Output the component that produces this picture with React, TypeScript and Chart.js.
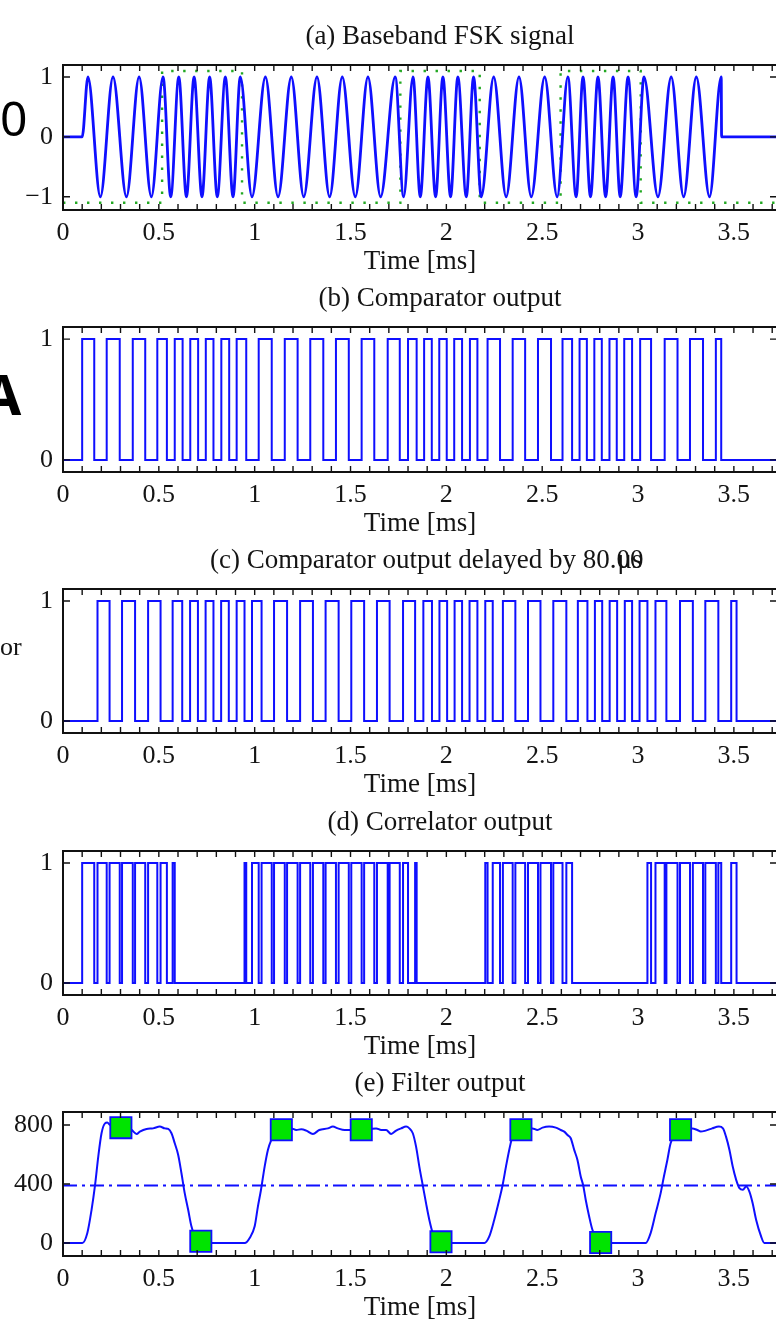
import React, { useEffect, useRef } from 'react';
import { Chart, registerables } from 'chart.js';

Chart.register(...registerables);

const SERIF = '"Liberation Serif", "Times New Roman", Times, serif';
const TEXT = '#141414';
const BLUE = '#0f0fff';
const GREEN_DOT = '#22a822';
const MARKER_FILL = '#00e400';

// ---------------- data ----------------
const X_MAX = 3.725;
const xTickValues = [0, 0.5, 1, 1.5, 2, 2.5, 3, 3.5];
const xTickLabels = ['0', '0.5', '1', '1.5', '2', '2.5', '3', '3.5'];

// (a) baseband FSK signal: times of maxima (+1) and minima (-1), in ms
const fskOnset = 0.1;
const fskOffset = 3.436;
const fskPeaks = [
  0.13, 0.261, 0.397, 0.522, 0.604, 0.684, 0.765, 0.847, 0.925, 1.056, 1.191,
  1.325, 1.457, 1.591, 1.733, 1.826, 1.904, 1.982, 2.06, 2.142, 2.247, 2.379,
  2.513, 2.634, 2.713, 2.791, 2.87, 2.948, 3.031, 3.173, 3.304, 3.434,
];
const fskTroughs = [
  0.195, 0.331, 0.461, 0.562, 0.644, 0.725, 0.805, 0.887, 0.986, 1.122, 1.256,
  1.391, 1.525, 1.657, 1.777, 1.864, 1.944, 2.022, 2.104, 2.182, 2.312, 2.443,
  2.578, 2.677, 2.752, 2.831, 2.907, 2.99, 3.104, 3.238, 3.373,
];
// dotted bit envelope (high intervals, ms) and its two levels
const bitHighIntervals = [
  [0.517, 0.934],
  [1.76, 2.174],
  [2.596, 3.014],
];
const bitLow = -1.1;
const bitHigh = 1.1;

// (b) comparator output: [rise, fall] in ms
const comparatorPulses = [
  [0.1, 0.163], [0.228, 0.296], [0.364, 0.429], [0.492, 0.542], [0.583, 0.624],
  [0.664, 0.705], [0.745, 0.785], [0.826, 0.867], [0.906, 0.956], [1.021, 1.089],
  [1.157, 1.224], [1.29, 1.358], [1.424, 1.491], [1.558, 1.624], [1.694, 1.757],
  [1.8, 1.845], [1.884, 1.924], [1.963, 2.002], [2.041, 2.082], [2.123, 2.162],
  [2.215, 2.28], [2.346, 2.411], [2.478, 2.546], [2.606, 2.656], [2.695, 2.733],
  [2.772, 2.811], [2.851, 2.889], [2.928, 2.969], [3.011, 3.068], [3.139, 3.206],
  [3.271, 3.339], [3.406, 3.434],
];

// (c) comparator output delayed by 80 us: [rise, fall] in ms
const delayedPulses = [
  [0.18, 0.243], [0.308, 0.376], [0.444, 0.509], [0.572, 0.622], [0.663, 0.704],
  [0.744, 0.785], [0.825, 0.865], [0.906, 0.947], [0.986, 1.036], [1.101, 1.169],
  [1.237, 1.304], [1.37, 1.438], [1.504, 1.571], [1.638, 1.704], [1.774, 1.837],
  [1.88, 1.925], [1.964, 2.004], [2.043, 2.082], [2.121, 2.162], [2.203, 2.242],
  [2.295, 2.36], [2.426, 2.491], [2.558, 2.626], [2.686, 2.736], [2.775, 2.813],
  [2.852, 2.891], [2.931, 2.969], [3.008, 3.049], [3.091, 3.148], [3.219, 3.286],
  [3.351, 3.419], [3.486, 3.514],
];

// (d) correlator output: [rise, fall] in ms
const correlatorPulses = [
  [0.1, 0.163], [0.18, 0.228], [0.243, 0.296], [0.308, 0.364], [0.376, 0.429],
  [0.444, 0.492], [0.509, 0.542], [0.572, 0.583], [0.947, 0.956], [0.986, 1.021],
  [1.036, 1.089], [1.101, 1.157], [1.169, 1.224], [1.237, 1.29], [1.304, 1.358],
  [1.37, 1.424], [1.438, 1.491], [1.504, 1.558], [1.571, 1.624], [1.638, 1.694],
  [1.704, 1.757], [1.774, 1.8], [1.837, 1.845], [2.203, 2.215], [2.242, 2.28],
  [2.295, 2.346], [2.36, 2.411], [2.426, 2.478], [2.491, 2.546], [2.558, 2.606],
  [2.626, 2.656], [3.049, 3.068], [3.091, 3.139], [3.148, 3.206], [3.219, 3.271],
  [3.286, 3.339], [3.351, 3.406], [3.419, 3.434], [3.486, 3.514],
];

// (e) filter output
const filterTimes = [
  0, 0.101, 0.127, 0.149, 0.167, 0.184, 0.201, 0.219, 0.231, 0.245, 0.3, 0.358,
  0.384, 0.401, 0.436, 0.47, 0.505, 0.531, 0.549, 0.566, 0.583, 0.601, 0.618,
  0.635, 0.653, 0.67, 0.696, 0.72, 0.783, 0.948, 0.974, 1.0, 1.017, 1.033, 1.052,
  1.069, 1.087, 1.113, 1.14, 1.191, 1.217, 1.243, 1.269, 1.304, 1.337, 1.382,
  1.408, 1.434, 1.469, 1.503, 1.556, 1.634, 1.66, 1.686, 1.712, 1.738, 1.764,
  1.79, 1.807, 1.825, 1.842, 1.859, 1.877, 1.894, 1.911, 1.929, 1.96, 2.024,
  2.198, 2.224, 2.25, 2.276, 2.293, 2.311, 2.328, 2.345, 2.389, 2.449, 2.475,
  2.502, 2.536, 2.571, 2.597, 2.615, 2.632, 2.649, 2.667, 2.684, 2.701, 2.714,
  2.727, 2.745, 2.762, 2.8, 2.866, 3.04, 3.066, 3.092, 3.118, 3.135, 3.153, 3.17,
  3.222, 3.283, 3.309, 3.327, 3.353, 3.387, 3.422, 3.443, 3.459, 3.477, 3.494,
  3.512, 3.529, 3.547, 3.564, 3.581, 3.598, 3.616, 3.642, 3.659, 3.725,
];
const filterValues = [
  0, 0, 68, 225, 390, 586, 744, 811, 816, 800, 785, 766,
  739, 755, 773, 777, 789, 777, 773, 744, 676, 597, 473,
  338, 225, 113, 23, 0, 0, 0, 34, 113, 248, 361, 518,
  631, 699, 755, 775, 777, 766, 771, 762, 739, 766, 777,
  789, 777, 766, 766, 770, 777, 766, 766, 739, 762, 777,
  789, 777, 744, 653, 518, 390, 270, 158, 68, 5, 0,
  0, 45, 158, 293, 390, 518, 631, 721, 775, 777, 766,
  782, 789, 782, 766, 755, 732, 710, 631, 563, 451, 390,
  293, 180, 90, 0, 0, 0, 68, 203, 338, 451, 563, 676,
  775, 777, 766, 755, 762, 777, 789, 777, 721, 631, 518,
  428, 372, 361, 383, 349, 270, 158, 45, 0, 0,
];
const sampleTimes = [0.302, 0.719, 1.139, 1.556, 1.972, 2.389, 2.805, 3.222];
const sampleValues = [782, 12, 768, 768, 8, 768, 4, 768];
const threshold = 390;

// ---------------- helpers ----------------
type Pt = { x: number; y: number };

function pulsesToSteps(pulses: number[][], low: number, high: number): Pt[] {
  const pts: Pt[] = [{ x: 0, y: low }];
  for (const [r, f] of pulses) {
    pts.push({ x: r, y: high }, { x: f, y: low });
  }
  pts.push({ x: X_MAX, y: low });
  return pts;
}

function fskPoints(): Pt[] {
  const ext: Pt[] = [
    ...fskPeaks.map((t) => ({ x: t, y: 1 })),
    ...fskTroughs.map((t) => ({ x: t, y: -1 })),
  ].sort((a, b) => a.x - b.x);
  return [{ x: 0, y: 0 }, { x: fskOnset, y: 0 }, ...ext, { x: fskOffset, y: 0 }, { x: X_MAX, y: 0 }];
}

const stepLine = (data: Pt[]) => ({
  data,
  borderColor: BLUE,
  borderWidth: 2,
  stepped: true,
  pointRadius: 0,
  fill: false,
});

const W = 800;
const PLOT_RIGHT = 777;
const PAD_TOP = 45;
const X_AXIS_H = 68;
const TITLE_X = 440;

type Extra = { text: string; x: number; y: number; font: string; align: CanvasTextAlign; color: string };

interface PanelCfg {
  id: string;
  title: string;
  overlapTitle?: boolean;
  top: number;
  bottom: number;
  yMin: number;
  yMax: number;
  yTicks: number[];
  yLabels: string[];
  datasets: any[];
  extras?: Extra[];
}

const panels: PanelCfg[] = [
  {
    id: 'a',
    title: '(a) Baseband FSK signal',
    top: 65,
    bottom: 210,
    yMin: -1.22,
    yMax: 1.2,
    yTicks: [-1, 0, 1],
    yLabels: ['\u22121', '0', '1'],
    datasets: [
      {
        data: fskPoints(),
        borderColor: BLUE,
        borderWidth: 2.8,
        cubicInterpolationMode: 'monotone',
        pointRadius: 0,
        fill: false,
      },
      {
        data: pulsesToSteps(bitHighIntervals, bitLow, bitHigh),
        borderColor: GREEN_DOT,
        borderWidth: 2.4,
        borderDash: [2.4, 9.6],
        stepped: true,
        pointRadius: 0,
        fill: false,
      },
    ],
    extras: [
      { text: '0', x: 0, y: 136, font: '48px "Noto Sans", "DejaVu Sans", sans-serif', align: 'left', color: '#000' },
    ],
  },
  {
    id: 'b',
    title: '(b) Comparator output',
    top: 327,
    bottom: 472,
    yMin: -0.1,
    yMax: 1.1,
    yTicks: [0, 1],
    yLabels: ['0', '1'],
    datasets: [stepLine(pulsesToSteps(comparatorPulses, 0, 1))],
    extras: [
      { text: 'A', x: 2, y: 415, font: 'bold 56px "Noto Sans", "DejaVu Sans", sans-serif', align: 'center', color: '#000' },
    ],
  },
  {
    id: 'c',
    title: '(c) Comparator output delayed by 80.',
    overlapTitle: true,
    top: 589,
    bottom: 733,
    yMin: -0.1,
    yMax: 1.1,
    yTicks: [0, 1],
    yLabels: ['0', '1'],
    datasets: [stepLine(pulsesToSteps(delayedPulses, 0, 1))],
    extras: [{ text: 'or', x: 0, y: 655, font: `26px ${SERIF}`, align: 'left', color: TEXT }],
  },
  {
    id: 'd',
    title: '(d) Correlator output',
    top: 851,
    bottom: 995,
    yMin: -0.1,
    yMax: 1.1,
    yTicks: [0, 1],
    yLabels: ['0', '1'],
    datasets: [stepLine(pulsesToSteps(correlatorPulses, 0, 1))],
  },
  {
    id: 'e',
    title: '(e) Filter output',
    top: 1112,
    bottom: 1256,
    yMin: -88,
    yMax: 888,
    yTicks: [0, 400, 800],
    yLabels: ['0', '400', '800'],
    datasets: [
      {
        data: sampleTimes.map((t, i) => ({ x: t, y: sampleValues[i] })),
        showLine: false,
        pointStyle: 'rect',
        pointRadius: 15,
        pointBackgroundColor: MARKER_FILL,
        pointBorderColor: BLUE,
        pointBorderWidth: 1.8,
        borderColor: BLUE,
      },
      {
        data: filterTimes.map((t, i) => ({ x: t, y: filterValues[i] })),
        borderColor: BLUE,
        borderWidth: 2,
        cubicInterpolationMode: 'monotone',
        pointRadius: 0,
        fill: false,
      },
      {
        data: [
          { x: 0, y: threshold },
          { x: X_MAX, y: threshold },
        ],
        borderColor: BLUE,
        borderWidth: 1.8,
        borderDash: [14, 5, 3, 5],
        pointRadius: 0,
        fill: false,
      },
    ],
  },
];

function framePlugin(cfg: PanelCfg, canvasTop: number) {
  return {
    id: 'matlabFrame' + cfg.id,
    afterDraw(chart: any) {
      const { ctx, chartArea, scales } = chart;
      const { left, right, top, bottom } = chartArea;
      const x = scales.x;
      const y = scales.y;
      ctx.save();
      // inward tick marks
      ctx.strokeStyle = '#111';
      ctx.lineWidth = 1.4;
      ctx.beginPath();
      for (let i = 0; i <= 37; i++) {
        const px = x.getPixelForValue(i / 10);
        ctx.moveTo(px, bottom);
        ctx.lineTo(px, bottom - 6);
        ctx.moveTo(px, top);
        ctx.lineTo(px, top + 6);
      }
      for (const v of cfg.yTicks) {
        const py = y.getPixelForValue(v);
        ctx.moveTo(left, py);
        ctx.lineTo(left + 7, py);
        ctx.moveTo(right, py);
        ctx.lineTo(right - 7, py);
      }
      ctx.stroke();
      // box
      ctx.lineWidth = 2;
      ctx.strokeStyle = '#111';
      ctx.strokeRect(left, top, right - left, bottom - top);
      // title
      ctx.fillStyle = TEXT;
      ctx.font = `27px ${SERIF}`;
      ctx.textBaseline = 'middle';
      const ty = top - 28;
      if (cfg.overlapTitle) {
        ctx.textAlign = 'left';
        const x0 = 210;
        const w1 = ctx.measureText(cfg.title).width;
        ctx.fillText(cfg.title, x0, ty);
        ctx.fillText('00', x0 + w1, ty);
        ctx.fillText('\u03bcs', x0 + w1 + 1, ty);
      } else {
        ctx.textAlign = 'center';
        ctx.fillText(cfg.title, TITLE_X, ty);
      }
      // cropped neighbouring text
      for (const ex of cfg.extras || []) {
        ctx.font = ex.font;
        ctx.fillStyle = ex.color;
        ctx.textAlign = ex.align;
        ctx.textBaseline = 'alphabetic';
        ctx.fillText(ex.text, ex.x, ex.y - canvasTop);
      }
      ctx.restore();
    },
  };
}

function Panel({ cfg }: { cfg: PanelCfg }) {
  const ref = useRef<HTMLCanvasElement>(null);
  const H = PAD_TOP + (cfg.bottom - cfg.top) + X_AXIS_H;
  const canvasTop = cfg.top - PAD_TOP;

  useEffect(() => {
    const font = { family: SERIF, size: 26, lineHeight: 1.2 };
    const titleFont = { family: SERIF, size: 27, lineHeight: 1.2 };
    const chart = new Chart(ref.current as HTMLCanvasElement, {
      type: 'line',
      data: { datasets: cfg.datasets },
      options: {
        responsive: false,
        animation: false,
        events: [],
        devicePixelRatio: 1,
        layout: { padding: { top: PAD_TOP, left: 0, right: W - PLOT_RIGHT, bottom: 0 } },
        plugins: {
          legend: { display: false },
          tooltip: { enabled: false },
          title: { display: false },
        },
        scales: {
          x: {
            type: 'linear',
            position: 'bottom',
            min: 0,
            max: X_MAX,
            afterFit: (s: any) => {
              s.height = X_AXIS_H;
            },
            afterBuildTicks: (s: any) => {
              s.ticks = xTickValues.map((v) => ({ value: v }));
            },
            grid: { display: false, drawTicks: false },
            border: { display: false },
            ticks: {
              padding: 8,
              autoSkip: false,
              maxRotation: 0,
              color: TEXT,
              font,
              callback: (_v: any, i: number) => xTickLabels[i],
            },
            title: {
              display: true,
              text: 'Time [ms]',
              color: TEXT,
              font: titleFont,
              padding: { top: 0, bottom: 0 },
            },
          },
          y: {
            type: 'linear',
            min: cfg.yMin,
            max: cfg.yMax,
            afterFit: (s: any) => {
              s.width = 63;
            },
            afterBuildTicks: (s: any) => {
              s.ticks = cfg.yTicks.map((v) => ({ value: v }));
            },
            grid: { display: false, drawTicks: false },
            border: { display: false },
            ticks: {
              padding: 10,
              autoSkip: false,
              color: TEXT,
              font,
              callback: (_v: any, i: number) => cfg.yLabels[i],
            },
          },
        },
      } as any,
      plugins: [framePlugin(cfg, canvasTop)],
    });
    return () => chart.destroy();
  }, []);

  return (
    <canvas
      ref={ref}
      width={W}
      height={H}
      style={{ position: 'absolute', left: 0, top: canvasTop, width: W, height: H }}
    />
  );
}

export default function App() {
  return (
    <div
      style={{
        position: 'absolute',
        left: 0,
        top: 0,
        width: 776,
        height: 1320,
        overflow: 'hidden',
        background: '#fff',
      }}
    >
      {panels.map((p) => (
        <Panel key={p.id} cfg={p} />
      ))}
    </div>
  );
}
